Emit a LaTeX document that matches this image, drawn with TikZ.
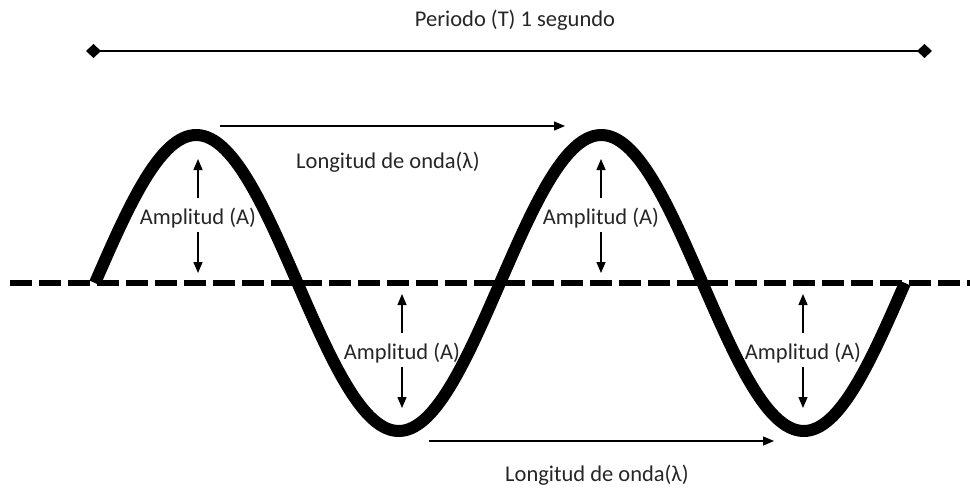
\documentclass[tikz,border=0pt]{standalone}
\usepackage{fontspec}
\setmainfont{Carlito}
\usetikzlibrary{arrows.meta}
\begin{document}
\begin{tikzpicture}[x=1pt,y=-1pt,
  lbl/.style={font=\fontsize{22.5}{25}\selectfont, text=black!85, inner sep=1pt},
  arr/.style={line width=1.3pt, -{Triangle[length=11pt,width=9pt]}},
  wave/.style={line width=12pt, line join=round},
  axis/.style={line width=6pt, dash pattern=on 22pt off 7pt},
  period/.style={line width=2pt, {Diamond[length=15pt,width=14pt]}-{Diamond[length=15pt,width=14pt]}}]
\useasboundingbox (0,0) rectangle (970,488);
% axis
\coordinate (axL) at (10,283);
\coordinate (axR) at (970,283);
\draw[axis] (axL) -- (axR);
% wave
\draw[wave] plot[domain=95:905, samples=240, smooth] (\x, {283-148*sin((\x-95)/405*360)});
% period line
\node[lbl] (per) at (515,20) {Periodo (T) 1 segundo};
\coordinate (pL) at (86,51);
\coordinate (pR) at (932,51);
\draw[period] (pL) -- (pR);
% wavelength arrows
\coordinate (w1a) at (220,126);
\coordinate (w1b) at (565,126);
\draw[arr] (w1a) -- (w1b);
\node[lbl] (wl1) at (388,162) {Longitud de onda(λ)};
\coordinate (w2a) at (429,441);
\coordinate (w2b) at (774,441);
\draw[arr] (w2a) -- (w2b);
\node[lbl] (wl2) at (597,475) {Longitud de onda(λ)};
% amplitude labels (peaks)
\foreach \n/\xx in {a/198, b/601} {
  \node[lbl] (amp\n) at (\xx+0,218) {Amplitud (A)};
  \coordinate (amp\n u) at (\xx,198);
  \coordinate (amp\n t) at (\xx,159);
  \coordinate (amp\n d) at (\xx,232);
  \coordinate (amp\n b) at (\xx,273);
  \draw[arr] (amp\n u) -- (amp\n t);
  \draw[arr] (amp\n d) -- (amp\n b);
}
% amplitude labels (troughs)
\foreach \n/\xx in {c/402, d/803} {
  \node[lbl] (amp\n) at (\xx+0,353) {Amplitud (A)};
  \coordinate (amp\n u) at (\xx,333);
  \coordinate (amp\n t) at (\xx,294);
  \coordinate (amp\n d) at (\xx,367);
  \coordinate (amp\n b) at (\xx,408);
  \draw[arr] (amp\n u) -- (amp\n t);
  \draw[arr] (amp\n d) -- (amp\n b);
}
\end{tikzpicture}
\end{document}
